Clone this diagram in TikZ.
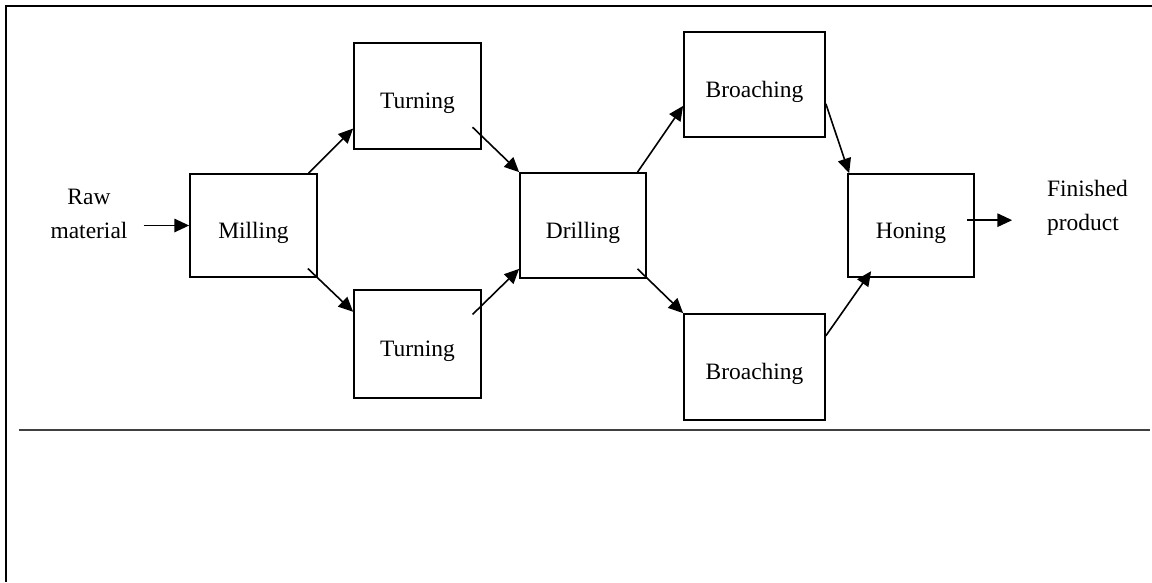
\documentclass[tikz,border=0pt]{standalone}
\usepackage{fontspec}
\setmainfont{Liberation Serif}
\usetikzlibrary{arrows.meta}
\tikzset{>={Triangle[length=11pt,width=10pt]},
  stage/.style={draw, line width=1.3pt, minimum width=95.25pt, minimum height=77.25pt, inner sep=0pt, text height=19pt, text depth=0pt},
  flow/.style={->, line width=1.2pt}}

\begin{document}
\begin{tikzpicture}[x=0.75pt, y=-0.75pt, font=\fontsize{17.6pt}{25.5pt}\selectfont]
\useasboundingbox (0,0) rectangle (1152,582);
\draw[line width=1.5pt] (6,582) -- (6,6) -- (1152,6);
\draw[line width=1.6pt, black!75] (19,430) -- (1150,430);
\node[stage] (mill) at (253.5,225.5) {Milling};
\node[stage, minimum height=79.5pt] (turnA) at (417.5,96) {Turning};
\node[stage, minimum height=81pt] (turnB) at (417.5,344) {Turning};
\node[stage, minimum width=94.5pt, minimum height=78.75pt] (drill) at (583,225.5) {Drilling};
\node[stage, minimum width=105.75pt, minimum height=78.75pt] (broachA) at (754.5,84.5) {Broaching};
\node[stage, minimum width=105.75pt, minimum height=79.5pt] (broachB) at (754.5,367) {Broaching};
\node[stage, minimum width=94.5pt] (hone) at (911,225.5) {Honing};
\node[align=center, inner xsep=12pt, inner ysep=0pt] (raw) at (89,214) {Raw\\material};
\node[align=left, inner xsep=26pt, inner ysep=0pt] (fin) at (1087.5,208) {Finished\\product};
\draw[flow] (raw.east |- mill.west) -- (mill.west);
\draw[flow] ([xshift=-7pt]mill.north east) -- ([yshift=16pt]turnA.south west);
\draw[flow] ([xshift=-7.5pt,yshift=7pt]mill.south east) -- ([yshift=-17pt]turnB.north west);
\draw[flow] ([xshift=-7pt,yshift=17pt]turnA.south east) -- (drill.north west);
\draw[flow] ([xshift=-7pt,yshift=-19pt]turnB.north east) -- ([yshift=7.5pt]drill.south west);
\draw[flow] ([xshift=-7pt]drill.north east) -- ([yshift=24pt]broachA.south west);
\draw[flow] ([xshift=-7pt,yshift=7.5pt]drill.south east) -- (broachB.north west);
\draw[flow] ([yshift=25.5pt]broachA.south east) -- ([xshift=1.5pt]hone.north west);
\draw[flow] ([yshift=-17pt]broachB.north east) -- ([xshift=18pt,yshift=5pt]hone.south west);
\draw[flow] ([xshift=-6pt,yshift=4pt]hone.east) -- ([yshift=4pt]hone.east -| fin.west);
\end{tikzpicture}
\end{document}
